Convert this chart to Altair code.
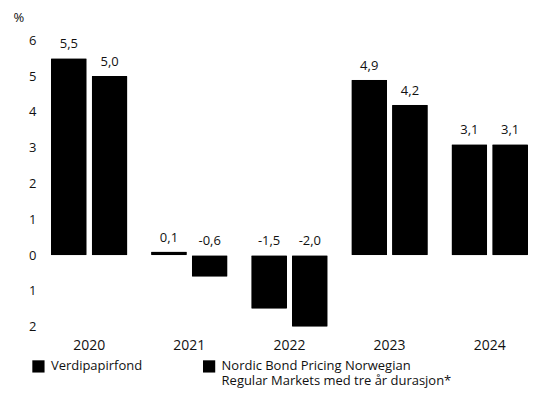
import altair as alt
import pandas as pd

years = ["2020", "2021", "2022", "2023", "2024"]
series_a = "Verdipapirfond"
series_b = "Nordic Bond Pricing Norwegian Regular Markets med tre år durasjon*"
values_a = [5.5, 0.1, -1.5, 4.9, 3.1]
values_b = [5.0, -0.6, -2.0, 4.2, 3.1]
labels_a = ["5,5", "0,1", "-1,5", "4,9", "3,1"]
labels_b = ["5,0", "-0,6", "-2,0", "4,2", "3,1"]
y_ticks = [-2, -1, 0, 1, 2, 3, 4, 5, 6]

rows = []
for i, y in enumerate(years):
    rows.append({"year": y, "series": series_a, "value": values_a[i], "label": labels_a[i]})
    rows.append({"year": y, "series": series_b, "value": values_b[i], "label": labels_b[i]})
df = pd.DataFrame(rows)

FONT = "Open Sans"
TXT = "#111111"

y_axis = alt.Axis(values=y_ticks, labelExpr="'' + abs(datum.value)",
                  labelOverlap=False, labelBound=False, tickCount=9,
                  domain=False, ticks=False, grid=False,
                  labelPadding=15, labelFontSize=13, labelColor=TXT,
                  labelFont=FONT,
                  title="%", titleAngle=0, titleAlign="left",
                  titleBaseline="middle", titleX=-38, titleY=-23,
                  titleFontSize=13, titleFontWeight="normal",
                  titleFont=FONT, titleColor=TXT)
y_scale = alt.Scale(domain=[-2, 6], nice=False, zero=True)

base = alt.Chart(df).encode(
    x=alt.X("year:N", sort=years,
            scale=alt.Scale(paddingInner=0.235, paddingOuter=0),
            axis=alt.Axis(title=None, labelAngle=0, domain=False, ticks=False,
                          labelPadding=12, labelFontSize=14, labelColor=TXT,
                          labelFont=FONT)),
    xOffset=alt.XOffset("series:N", sort=[series_a, series_b],
                        scale=alt.Scale(paddingInner=0.12, paddingOuter=0)),
)

legend_expr = (
    "datum.label == '" + series_b + "' ? "
    "['Nordic Bond Pricing Norwegian', 'Regular Markets med tre år durasjon*'] : "
    "[datum.label, '']"
)

bars = base.mark_bar(cornerRadius=1).encode(
    y=alt.Y("value:Q", scale=y_scale, axis=y_axis),
    color=alt.Color("series:N", sort=[series_a, series_b],
                    scale=alt.Scale(domain=[series_a, series_b], range=["#000000", "#000000"]),
                    legend=alt.Legend(title=None, orient="none", direction="horizontal",
                                      legendX=-19, legendY=320,
                                      symbolType="square", symbolSize=150,
                                      symbolStrokeWidth=0, symbolOpacity=1,
                                      labelFontSize=13, labelFont=FONT, labelColor=TXT,
                                      labelLimit=400, columnPadding=60, labelOffset=6,
                                      labelExpr=legend_expr)),
)

text = base.transform_calculate(
    ypos="max(datum.value, 0)"
).mark_text(font=FONT, fontSize=13, color=TXT, baseline="middle", dy=-14).encode(
    y=alt.Y("ypos:Q", scale=y_scale, axis=y_axis),
    text="label:N",
)

chart = alt.layer(bars, text).properties(
    width=478, height=287,
    padding={"left": 5, "top": 3, "right": 0, "bottom": 0},
    background="white",
).configure_view(stroke=None)

chart.save("out.html", embed_options={"renderer": "svg", "actions": False})
